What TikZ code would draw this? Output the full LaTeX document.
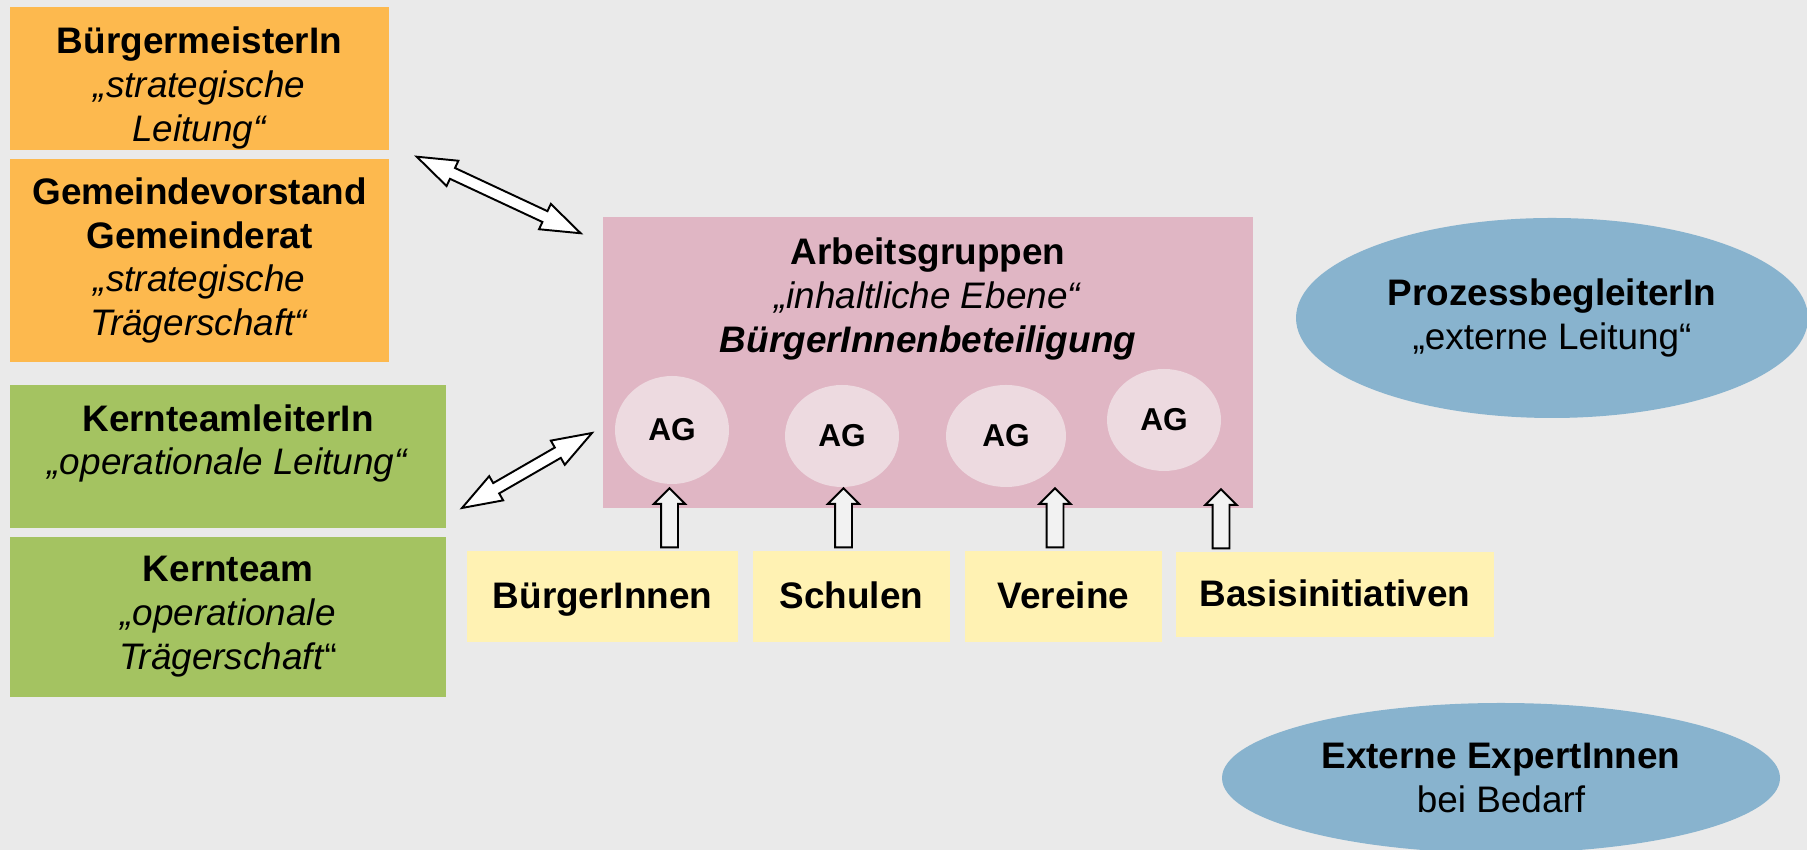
\documentclass[tikz,border=0pt]{standalone}
\usepackage{fontspec}
\setmainfont{Liberation Sans}
\usepackage{tikz}
\usetikzlibrary{shapes.geometric,shapes.arrows,calc}

\definecolor{bgc}{HTML}{EAEAEA}
\definecolor{orangec}{HTML}{FDB94E}
\definecolor{greenc}{HTML}{A4C361}
\definecolor{pinkc}{HTML}{E0B6C4}
\definecolor{agc}{HTML}{EDDAE0}
\definecolor{yellowc}{HTML}{FFF2B3}
\definecolor{bluec}{HTML}{88B3CE}
\definecolor{arrowc}{HTML}{F2F2F2}

\begin{document}
\begin{tikzpicture}[bnode/.style={rectangle, inner sep=0pt, align=center, font=\fontsize{10.5}{12.5}\selectfont},
    tnode/.style={inner sep=0pt, align=center, font=\fontsize{10.5}{12.5}\selectfont},
    ynode/.style={bnode, fill=yellowc, text height=0.27cm, text depth=0.02cm, font=\fontsize{10.5}{12.5}\selectfont\bfseries},
    enode/.style={ellipse, fill=bluec, inner sep=0pt, align=center, font=\fontsize{10.5}{12.5}\selectfont},
    agnode/.style={ellipse, fill=agc, inner sep=0pt, font=\fontsize{9}{11}\selectfont\bfseries},
    uarrow/.style={single arrow, draw=black, fill=arrowc, line width=0.55pt, shape border rotate=90, inner sep=0.075cm, single arrow head extend=0.07cm, minimum height=0.59cm, anchor=tail},
    darrow/.style={double arrow, draw=black, fill=white, line width=0.55pt, inner sep=0.05cm, double arrow head extend=0.08cm, double arrow tip angle=39}]
    \fill[bgc] (0,0) rectangle (18.07,-8.5);
    \useasboundingbox (0,0) rectangle (18.07,-8.5);

    \node[bnode, fill=orangec, minimum width=3.79cm, minimum height=1.43cm] (bm) at (1.995,-0.785) {};
    \node[tnode] (bmt) at (1.995,-0.88) {\textbf{BürgermeisterIn}\\\textit{„strategische}\\\textit{Leitung“}};
    \node[bnode, fill=orangec, minimum width=3.79cm, minimum height=2.03cm] (gv) at (1.995,-2.605) {\textbf{Gemeindevorstand}\\\textbf{Gemeinderat}\\\textit{„strategische}\\\textit{Trägerschaft“}};
    \node[bnode, fill=greenc, minimum width=4.36cm, minimum height=1.43cm] (kl) at (2.28,-4.565) {};
    \node[tnode] (klt) at (2.28,-4.435) {\textbf{KernteamleiterIn}\\\textit{„operationale Leitung“}};
    \node[bnode, fill=greenc, minimum width=4.36cm, minimum height=1.60cm] (kt) at (2.28,-6.17) {\textbf{Kernteam}\\\textit{„operationale}\\\textit{Trägerschaft}“};

    \node[bnode, fill=pinkc, minimum width=6.5cm, minimum height=2.91cm] (ag) at (9.28,-3.625) {};
    \node[tnode] (agt) at (9.28,-2.99) {\textbf{Arbeitsgruppen}\\\textit{„inhaltliche Ebene“}\\\textbf{\textit{BürgerInnenbeteiligung}}};
    \node[agnode, minimum width=1.14cm, minimum height=1.08cm] (ag1) at (6.72,-4.30) {AG};
    \node[agnode, minimum width=1.14cm, minimum height=1.02cm] (ag2) at (8.42,-4.36) {AG};
    \node[agnode, minimum width=1.20cm, minimum height=1.02cm] (ag3) at (10.06,-4.36) {AG};
    \node[agnode, minimum width=1.14cm, minimum height=1.02cm] (ag4) at (11.64,-4.20) {AG};

    \node[ynode, minimum width=2.71cm, minimum height=0.91cm] (y1) at (6.025,-5.965) {BürgerInnen};
    \node[ynode, minimum width=1.97cm, minimum height=0.91cm] (y2) at (8.515,-5.965) {Schulen};
    \node[ynode, minimum width=1.97cm, minimum height=0.91cm] (y3) at (10.635,-5.965) {Vereine};
    \node[ynode, minimum width=3.18cm, minimum height=0.85cm] (y4) at (13.35,-5.945) {Basisinitiativen};

    \node[enode, minimum width=5.12cm, minimum height=2.0cm] (pb) at (15.52,-3.18) {\textbf{ProzessbegleiterIn}\\„externe Leitung“};
    \node[enode, minimum width=5.58cm, minimum height=1.5cm] (ex) at (15.01,-7.78) {\textbf{Externe ExpertInnen}\\bei Bedarf};

    \node[uarrow] (u1) at ([xshift=0.67cm,yshift=0.02cm]y1.north) {};
    \node[uarrow] (u2) at ([xshift=-0.08cm,yshift=0.02cm]y2.north) {};
    \node[uarrow] (u3) at ([xshift=-0.085cm,yshift=0.02cm]y3.north) {};
    \node[uarrow] (u4) at ([xshift=-1.14cm,yshift=0.02cm]y4.north) {};

    \coordinate (a1) at (4.167,-1.567);
    \coordinate (a2) at (5.807,-2.333);
    \coordinate (b1) at (4.62,-5.08);
    \coordinate (b2) at (5.92,-4.33);
    \path let \p1=(a1), \p2=(a2), \n1={atan2(\y2-\y1,\x2-\x1)}, \n2={veclen(\x2-\x1,\y2-\y1)} in
      node[darrow, rotate=\n1, minimum height=\n2] (d1) at ($(a1)!0.5!(a2)$) {};
    \path let \p1=(b1), \p2=(b2), \n1={atan2(\y2-\y1,\x2-\x1)}, \n2={veclen(\x2-\x1,\y2-\y1)} in
      node[darrow, rotate=\n1, minimum height=\n2] (d2) at ($(b1)!0.5!(b2)$) {};
\end{tikzpicture}
\end{document}
